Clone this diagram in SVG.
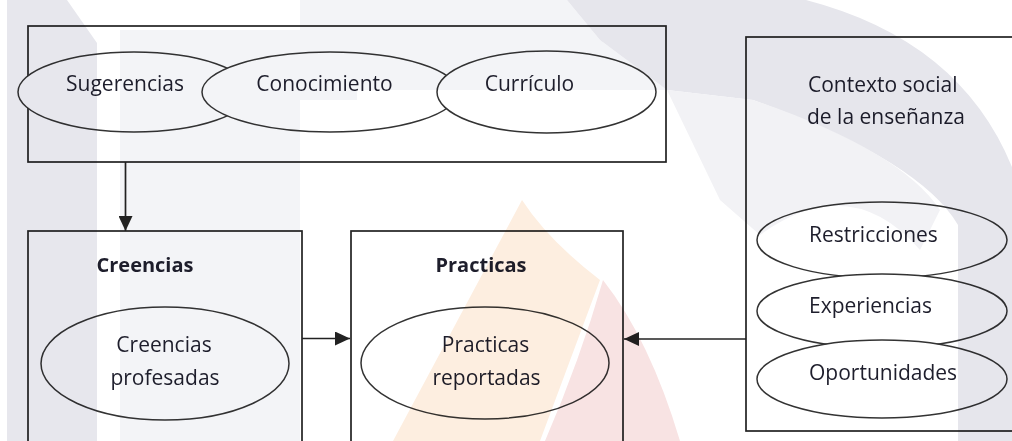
<svg xmlns="http://www.w3.org/2000/svg" width="1012" height="441" viewBox="0 0 1012 441">
<style>
.box{fill:none;stroke:#222;stroke-width:1.7}
.ell{fill:#fff;stroke:#333;stroke-width:1.5}
.t{font-family:"Open Sans","Liberation Sans",sans-serif;font-size:21px;fill:#1e1e2c}
.c{text-anchor:middle}
.b{font-weight:bold;font-size:20px}
.wm{mix-blend-mode:multiply}
.conn{fill:none;stroke:#222;stroke-width:1.7}
</style>
<defs>
<marker id="ah" markerUnits="userSpaceOnUse" markerWidth="16" markerHeight="14" refX="15" refY="7" orient="auto">
<path d="M0,0 L15,7 L0,14 Z" fill="#222"/>
</marker>
</defs>
<rect width="1012" height="441" fill="#fff"/>

<g id="top-group">
<rect class="box" x="28" y="26" width="638" height="136"/>
<g id="sugerencias"><ellipse class="ell" cx="134" cy="92" rx="116" ry="40"/><text class="t c" x="125" y="91">Sugerencias</text></g>
<g id="conocimiento"><ellipse class="ell" cx="330" cy="92" rx="128" ry="40"/><text class="t c" x="324.5" y="91">Conocimiento</text></g>
<g id="curriculo"><ellipse class="ell" cx="546.5" cy="92" rx="109.5" ry="41"/><text class="t c" x="529.5" y="91">Currículo</text></g>
</g>

<g id="creencias">
<rect class="box" x="28" y="231" width="274" height="220"/>
<text class="t c b" x="145" y="272">Creencias</text>
<g id="creencias-profesadas"><ellipse class="ell" cx="165" cy="363.5" rx="124" ry="56.5"/>
<text class="t c" x="164" y="352">Creencias</text><text class="t c" x="165" y="385">profesadas</text></g>
</g>

<g id="practicas">
<rect class="box" x="351" y="231" width="272" height="220"/>
<text class="t c b" x="481" y="272">Practicas</text>
<g id="practicas-reportadas"><ellipse class="ell" cx="485" cy="363" rx="124" ry="56"/>
<text class="t c" x="485.5" y="352">Practicas</text><text class="t c" x="486.5" y="385">reportadas</text></g>
</g>

<g id="contexto">
<rect class="box" x="746" y="37" width="280" height="394"/>
<text class="t" x="808" y="92">Contexto social</text>
<text class="t" x="807" y="124">de la enseñanza</text>
<g id="restricciones"><ellipse class="ell" cx="882" cy="240" rx="125" ry="38"/><text class="t" x="809" y="242">Restricciones</text></g>
<g id="experiencias"><ellipse class="ell" cx="882" cy="311" rx="125" ry="37"/><text class="t" x="809" y="313">Experiencias</text></g>
<g id="oportunidades"><ellipse class="ell" cx="882" cy="379" rx="125" ry="39"/><text class="t" x="809" y="380">Oportunidades</text></g>
</g>

<g id="connectors">
<line class="conn" x1="125.5" y1="162" x2="125.5" y2="231" marker-end="url(#ah)"/>
<line class="conn" x1="302" y1="338.5" x2="350" y2="338.5" marker-end="url(#ah)"/>
<line class="conn" x1="746" y1="339" x2="624" y2="339" marker-end="url(#ah)"/>
</g>

<g id="watermark" class="wm">
<path d="M7,0 L67,0 L97,43 L97,441 L7,441 Z" fill="#e7e7ed"/>
<path d="M120,30 L300,30 L300,441 L120,441 Z" fill="#f3f4f7"/>
<path d="M300,0 L567,0 L600,40 L667,90 L357,90 L357,100 L300,100 Z" fill="#f3f4f7"/>
<path d="M567,0 L806,0 Q960,40 1012,167 L1012,441 L958,441 L958,225 Q920,160 753,100 L667,90 L600,40 Z" fill="#e6e6ec"/>
<path d="M667,90 L753,100 Q900,150 940,210 L920,250 Q850,170 760,235 L720,200 Z" fill="#f2f2f5"/>
<path d="M522,200 Q548,240 600,280 L540,441 L393,441 Z" fill="#fdeee0"/>
<path d="M603,280 Q650,340 680,441 L545,441 Q580,360 603,280 Z" fill="#f8e3e3"/>
</g>
</svg>
